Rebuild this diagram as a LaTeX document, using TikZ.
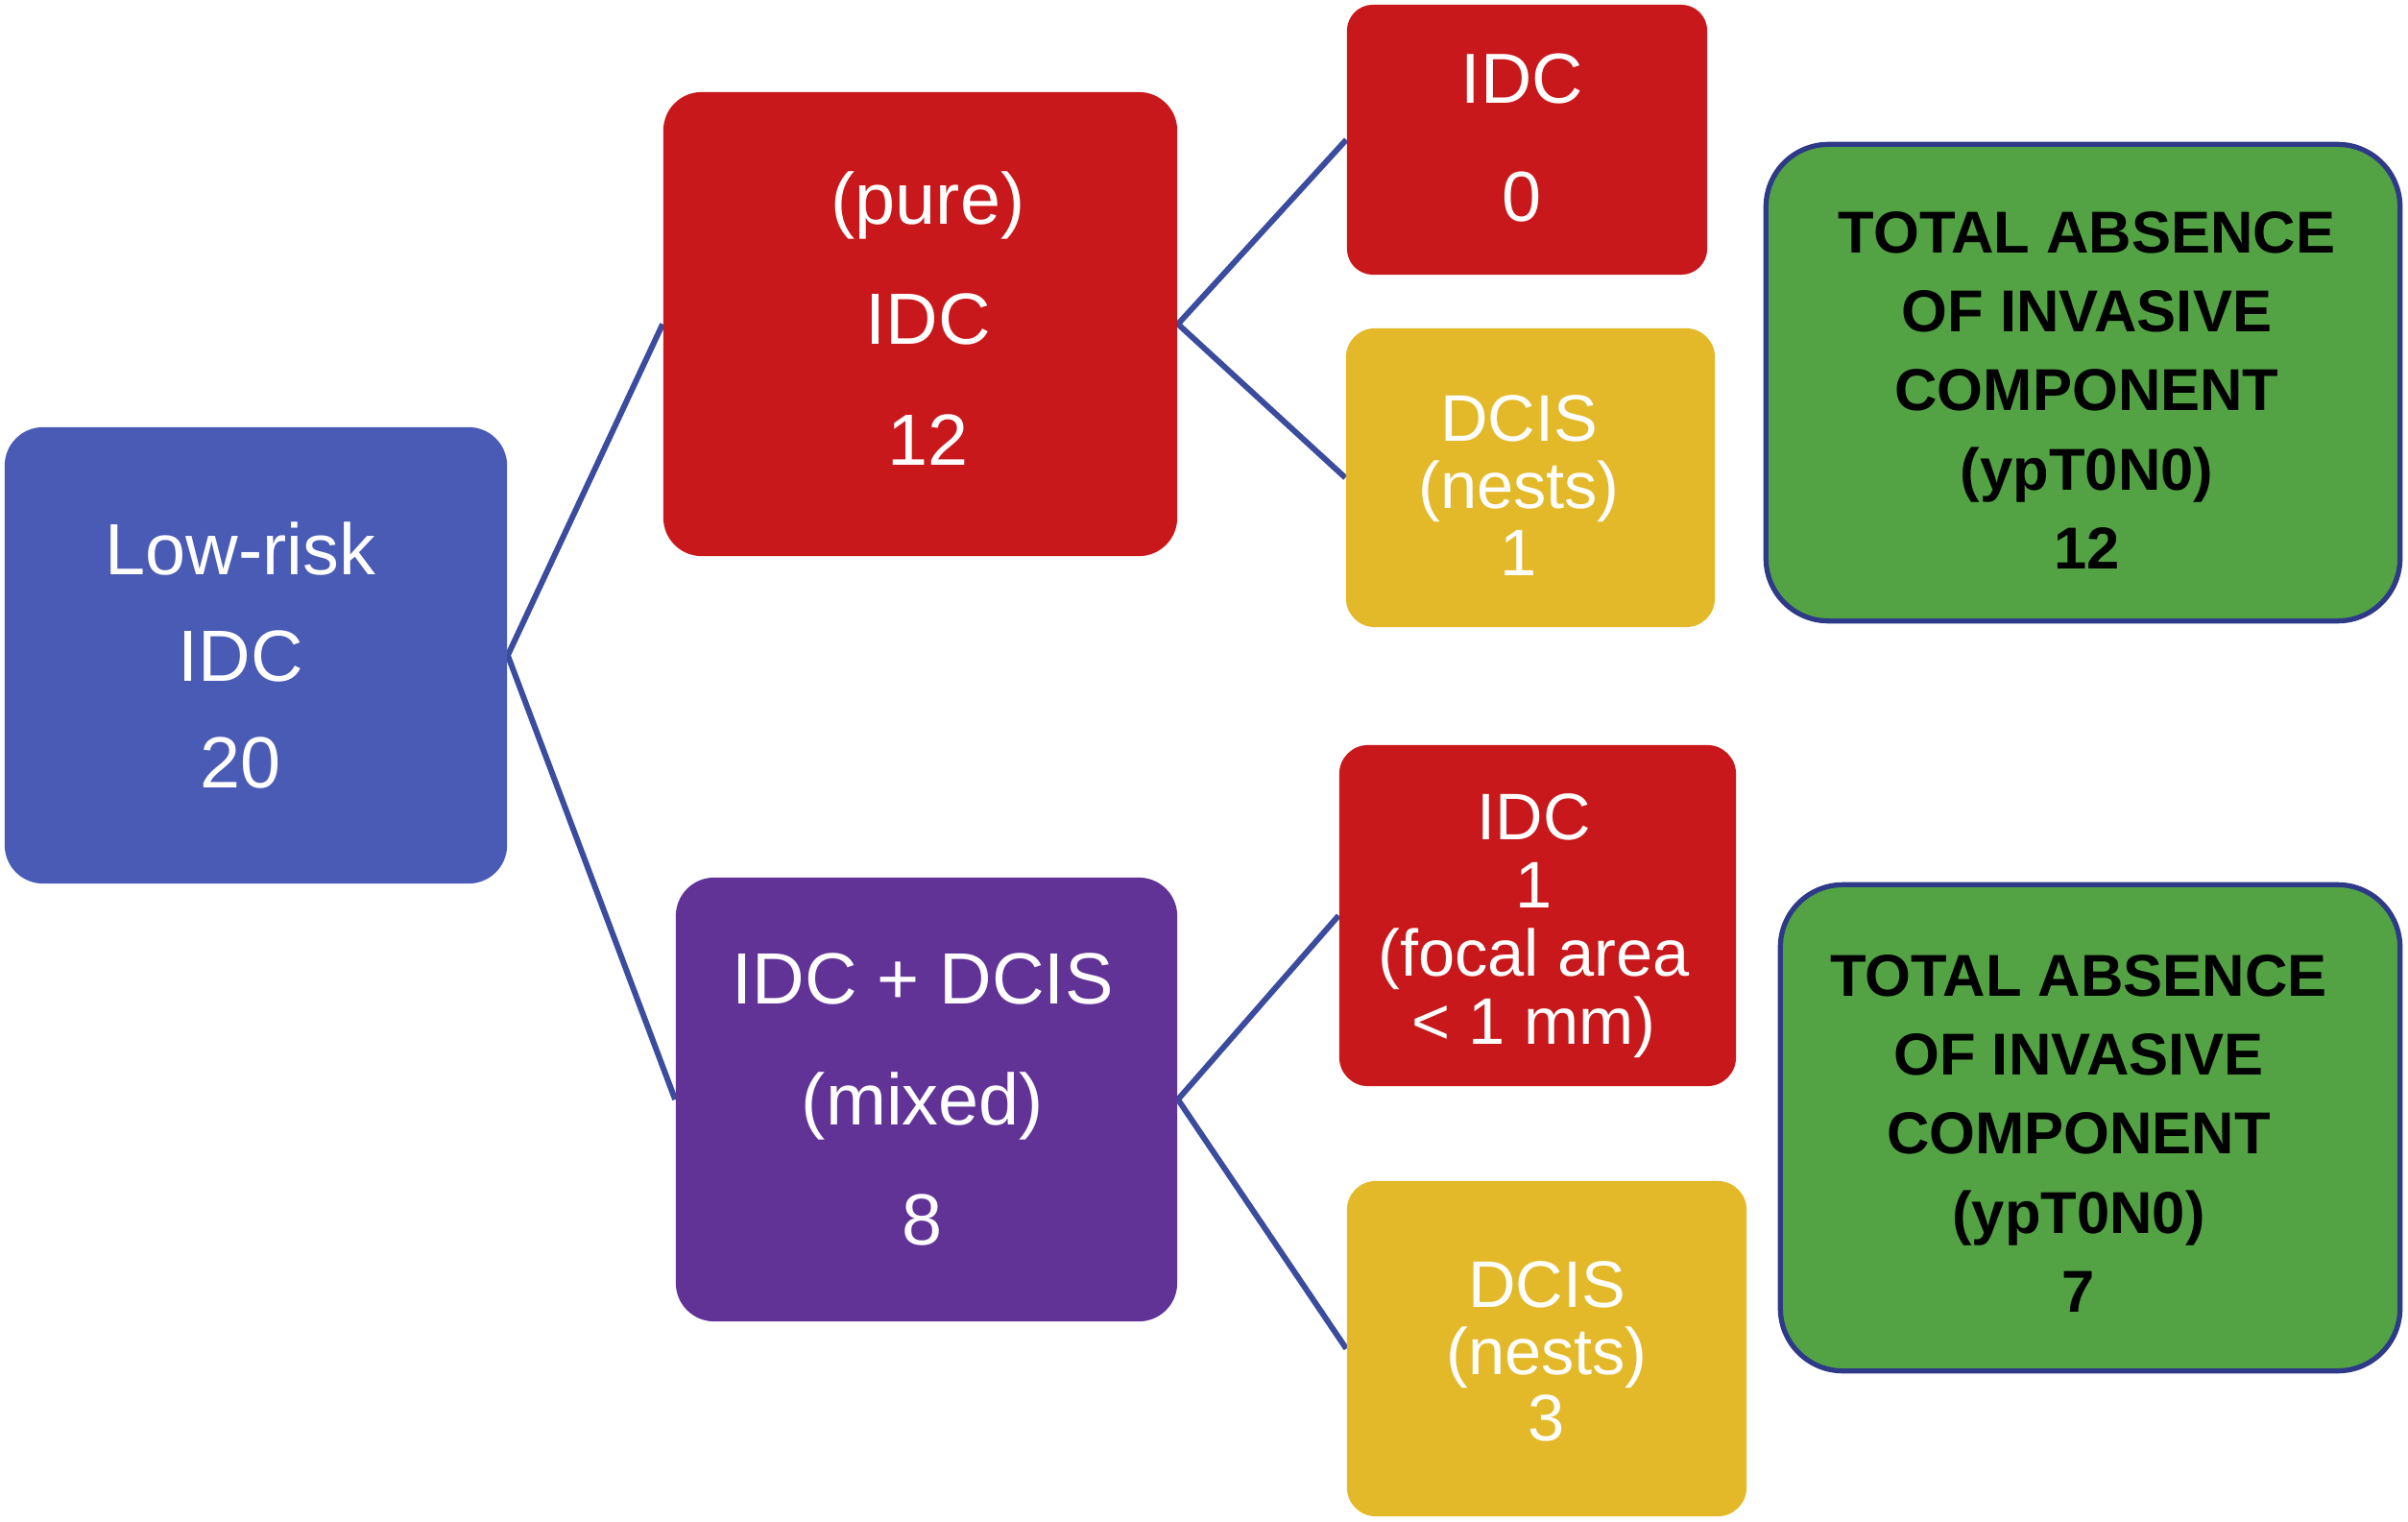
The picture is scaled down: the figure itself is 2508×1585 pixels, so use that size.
\documentclass[tikz,border=0pt]{standalone}
\usepackage{fontspec}
\setmainfont{Liberation Sans}
\usetikzlibrary{backgrounds}
\definecolor{cblue}{HTML}{4A5BB5}
\definecolor{cred}{HTML}{C9181B}
\definecolor{cpurple}{HTML}{623397}
\definecolor{cyellow}{HTML}{E3B929}
\definecolor{cgreen}{HTML}{53A345}
\definecolor{cline}{HTML}{3B4C9E}
\definecolor{cborder}{HTML}{2E3A87}
\tikzset{
  box/.style={inner sep=0pt, rounded corners=0.4cm},
  txt/.style={inner sep=0pt, align=center, text=white},
  bigtext/.style={font=\fontsize{21.5}{35.6}\selectfont},
  smalltext/.style={font=\fontsize{19.5}{19.8}\selectfont},
  resbox/.style={inner sep=0pt, fill=cgreen, draw=cborder,
    line width=1.5pt, rounded corners=0.65cm},
  restxt/.style={inner sep=0pt, align=center, text=black, font=\fontsize{17.5}{23.4}\selectfont\bfseries},
  conn/.style={draw=cline, line width=1.7pt, line join=miter}
}
\begin{document}
\begin{tikzpicture}[x=0.01cm, y=-0.01cm]
\useasboundingbox (0,0) rectangle (2508,1585);
% level 0
\node[box, fill=cblue, minimum width=5.23cm, minimum height=4.75cm] (low) at (266.5,682.5) {};
\node[txt, font=\fontsize{21.5}{31.6}\selectfont] (lowt) at ([shift={(-16,0)}]low.center) {Low-risk\\IDC\\20};
% level 1
\node[box, fill=cred, minimum width=5.35cm, minimum height=4.83cm] (pure) at (958.5,337.5) {};
\node[txt, bigtext] (puret) at ([shift={(8,-6)}]pure.center) {(pure)\\IDC\\12};
\node[box, fill=cpurple, minimum width=5.22cm, minimum height=4.62cm] (mixed) at (965,1145) {};
\node[txt, bigtext] (mixedt) at ([shift={(-4,0)}]mixed.center) {IDC + DCIS\\(mixed)\\8};
% level 2
\node[box, fill=cred, rounded corners=0.27cm, minimum width=3.75cm, minimum height=2.81cm] (idc0) at (1590.5,145.5) {};
\node[txt, font=\fontsize{21}{35.2}\selectfont] (idc0t) at ([shift={(-5,-2)}]idc0.center) {IDC\\0};
\node[box, fill=cyellow, rounded corners=0.3cm, minimum width=3.84cm, minimum height=3.11cm] (dcis1) at (1594,497.5) {};
\node[txt, smalltext] (dcis1t) at ([shift={(-12,8)}]dcis1.center) {DCIS\\(nests)\\1};
\node[box, fill=cred, rounded corners=0.3cm, minimum width=4.13cm, minimum height=3.55cm] (idc1) at (1601.5,953.5) {};
\node[txt, font=\fontsize{19.5}{20.2}\selectfont] (idc1t) at ([shift={(-4,11)}]idc1.center) {IDC\\1\\(focal area\\< 1 mm)};
\node[box, fill=cyellow, rounded corners=0.3cm, minimum width=4.16cm, minimum height=3.49cm] (dcis3) at (1611,1404.5) {};
\node[txt, smalltext] (dcis3t) at ([shift={(0,3)}]dcis3.center) {DCIS\\(nests)\\3};
% results
\node[resbox, minimum width=6.6cm, minimum height=4.96cm] (res1) at (2169.5,398.5) {};
\node[restxt] (res1t) at ([shift={(4,8)}]res1.center) {TOTAL ABSENCE\\OF INVASIVE\\COMPONENT\\(ypT0N0)\\12};
\node[resbox, minimum width=6.45cm, minimum height=5.06cm] (res2) at (2177,1174.5) {};
\node[restxt] (res2t) at ([shift={(-12,6)}]res2.center) {TOTAL ABSENCE\\OF INVASIVE\\COMPONENT\\(ypT0N0)\\7};
% connectors
\begin{scope}[on background layer]
\draw[conn] (pure.west) -- (low.east) -- (mixed.west);
\draw[conn] (idc0.west) -- (pure.east) -- (dcis1.west);
\draw[conn] (idc1.west) -- (mixed.east) -- (dcis3.west);
\end{scope}
\end{tikzpicture}
\end{document}
